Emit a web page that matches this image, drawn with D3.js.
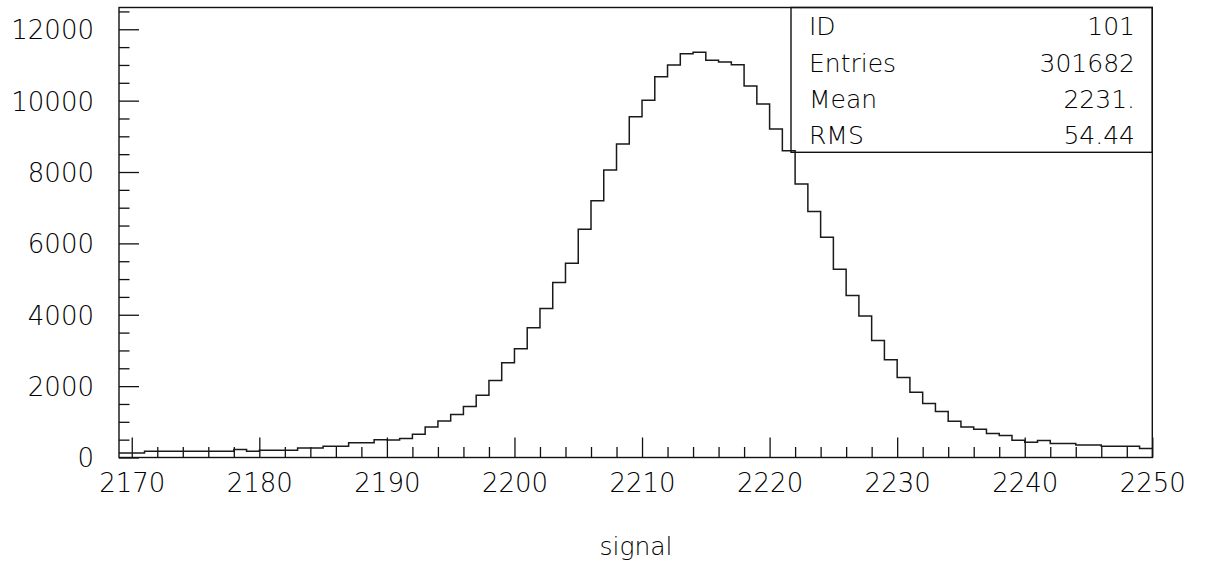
<!DOCTYPE html>
<html>
<head>
<meta charset="utf-8">
<script src="https://cdn.jsdelivr.net/npm/d3@7"></script>
<style>
  html, body { margin: 0; padding: 0; background: #fff; }
  svg { display: block; }
  text { font-family: "DejaVu Sans", "Liberation Sans", sans-serif; font-weight: 200; fill: #000; }
</style>
</head>
<body>
<svg id="chart" width="1205" height="570"></svg>
<script>
// Histogram 101: signal, 1-unit bins starting at 2169
const binStart = 2169;
const binWidth = 1;
const counts = [
  129, 129, 177, 177, 177, 177, 177, 177, 177, 224,   // 2169-2178
  177, 205, 205, 205, 269, 269, 317, 317, 410, 410,   // 2179-2188
  495, 490, 533, 653, 858, 1026, 1206, 1430, 1747, 2159, // 2189-2198
  2653, 3045, 3634, 4178, 4907, 5440, 6393, 7195, 8056, 8785, // 2199-2208
  9551, 10010, 10672, 11000, 11317, 11356, 11132, 11084, 11009, 10411, // 2209-2218
  9907, 9206, 8597, 7663, 6890, 6169, 5272, 4542, 3962, 3281, // 2219-2228
  2737, 2243, 1831, 1514, 1290, 1018, 858, 794, 673, 617,   // 2229-2238
  485, 430, 477, 393, 393, 350, 350, 317, 317, 317,   // 2239-2248
  255                                                  // 2249
];

const xTickValues = [2170, 2180, 2190, 2200, 2210, 2220, 2230, 2240, 2250];
const yTickValues = [0, 2000, 4000, 6000, 8000, 10000, 12000];
const xTitle = "signal";

const statLabels = ["ID", "Entries", "Mean", "RMS"];
const statValues = ["101", "301682", "2231.", "54.44"];

const yMax = 12610;

const svg = d3.select("#chart");
const plotL = 119, plotR = 1152.3, plotT = 7.5, plotB = 457.5;

const xEnd = binStart + counts.length * binWidth;
const x = d3.scaleLinear().domain([binStart, xEnd]).range([plotL, plotR]);
const y = d3.scaleLinear().domain([0, yMax]).range([plotB, plotT]);

const ink = "#111";

// minor ticks
const xMinor = d3.range(2170, xEnd + 0.001, 2).filter(v => v % 10 !== 0);
const yMinor = d3.range(500, yMax, 500).filter(v => v % 2000 !== 0);

// bottom axis ticks (inward)
const xAxisMajor = d3.axisBottom(x).tickValues(xTickValues).tickSize(-20).tickFormat(d3.format("d"));
const gx = svg.append("g").attr("transform", `translate(0,${plotB})`).call(xAxisMajor);
gx.select(".domain").remove();
gx.selectAll(".tick line").attr("stroke", ink).attr("stroke-width", 1.3);
gx.selectAll(".tick text")
  .attr("y", 34).attr("dy", 0)
  .style("font-size", "26px")
  .attr("fill", "#000");

const xAxisMinor = d3.axisBottom(x).tickValues(xMinor).tickSize(-10.5).tickFormat("");
const gxm = svg.append("g").attr("transform", `translate(0,${plotB})`).call(xAxisMinor);
gxm.select(".domain").remove();
gxm.selectAll(".tick line").attr("stroke", ink).attr("stroke-width", 1.3);

// left axis ticks (inward)
const yAxisMajor = d3.axisLeft(y).tickValues(yTickValues).tickSize(-20).tickFormat(d3.format("d"));
const gy = svg.append("g").attr("transform", `translate(${plotL},0)`).call(yAxisMajor);
gy.select(".domain").remove();
gy.selectAll(".tick line").attr("stroke", ink).attr("stroke-width", 1.3);
gy.selectAll(".tick text")
  .attr("x", -25).attr("dy", "0.36em")
  .style("font-size", "26px")
  .attr("fill", "#000");

const yAxisMinor = d3.axisLeft(y).tickValues(yMinor).tickSize(-10.5).tickFormat("");
const gym = svg.append("g").attr("transform", `translate(${plotL},0)`).call(yAxisMinor);
gym.select(".domain").remove();
gym.selectAll(".tick line").attr("stroke", ink).attr("stroke-width", 1.3);

// histogram outline
const edges = counts.map((c, i) => [binStart + i * binWidth, c]);
edges.push([xEnd, counts[counts.length - 1]]);
const step = d3.line().x(d => x(d[0])).y(d => y(d[1])).curve(d3.curveStepAfter);
svg.append("path")
  .attr("d", step(edges))
  .attr("fill", "none")
  .attr("stroke", "#1a1a1a")
  .attr("stroke-width", 1.5);

// frame
svg.append("rect")
  .attr("x", plotL).attr("y", plotT)
  .attr("width", plotR - plotL).attr("height", plotB - plotT)
  .attr("fill", "none").attr("stroke", ink).attr("stroke-width", 1.4);

// axis title
svg.append("text")
  .attr("x", 636).attr("y", 555)
  .attr("text-anchor", "middle")
  .style("font-size", "25px")
  .text(xTitle);

// statistics box
const boxLeft = 791, rowH = (152.3 - plotT) / statLabels.length;
svg.append("rect")
  .attr("x", boxLeft).attr("y", plotT)
  .attr("width", plotR - boxLeft).attr("height", rowH * statLabels.length)
  .attr("fill", "none").attr("stroke", ink).attr("stroke-width", 1.4);

const rows = svg.append("g").selectAll("g").data(statLabels.map((l, i) => [l, statValues[i]]))
  .join("g")
  .attr("transform", (d, i) => `translate(0,${plotT + rowH * i + 27.8})`);
rows.append("text").attr("x", 809).style("font-size", "25px").text(d => d[0]);
rows.append("text").attr("x", 1135).attr("text-anchor", "end").style("font-size", "25px").text(d => d[1]);
</script>
</body>
</html>
